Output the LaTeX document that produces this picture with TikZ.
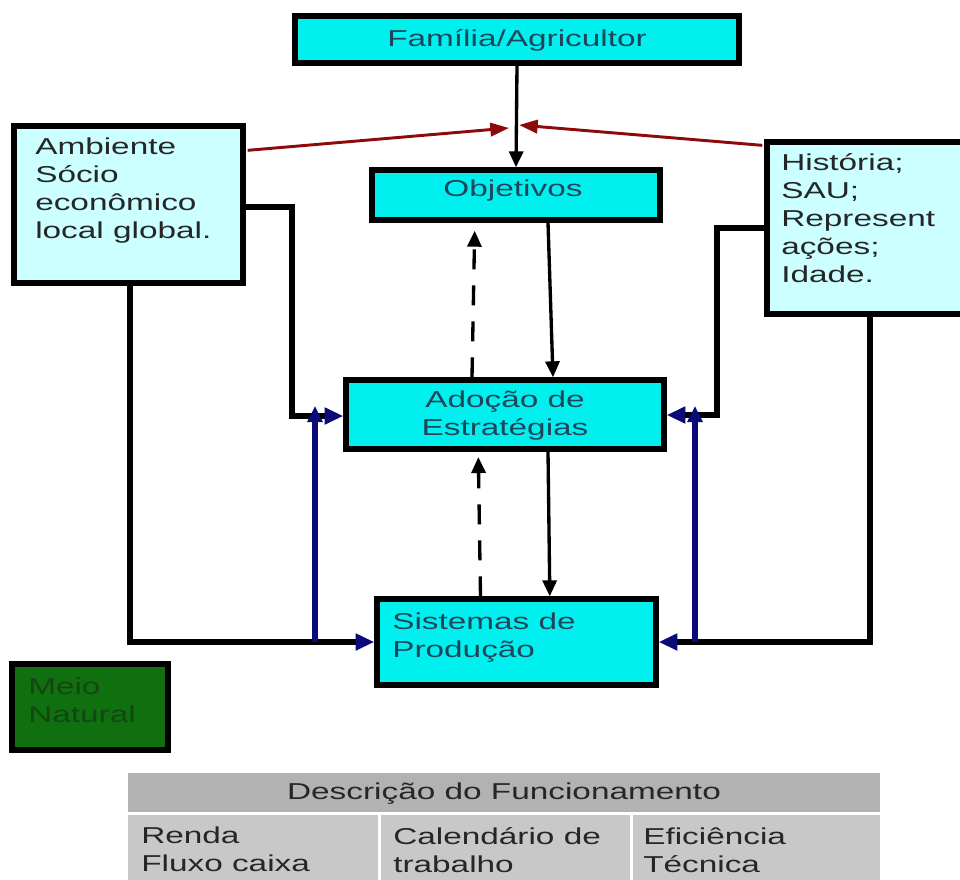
\documentclass[tikz,border=0pt]{standalone}
\usepackage{fontspec}
\setmainfont{Liberation Sans}[FakeStretch=1.45]
\usetikzlibrary{arrows.meta}
\definecolor{cyanbox}{RGB}{0,240,240}
\definecolor{lightcyan}{RGB}{204,255,255}
\definecolor{greenbox}{RGB}{16,112,16}
\definecolor{greentext}{RGB}{20,70,20}
\definecolor{slatetext}{RGB}{30,70,90}
\definecolor{darkred}{RGB}{140,10,10}
\definecolor{navyblue}{RGB}{10,10,120}
\definecolor{hdrgray}{RGB}{178,178,178}
\definecolor{cellgray}{RGB}{200,200,200}
\tikzset{
  box/.style={draw=black, line width=4pt, inner sep=0pt},
  txt/.style={inner sep=0pt, font=\fontsize{17.25}{21}\selectfont},
  ltxt/.style={txt, align=left, anchor=north west},
  thin/.style={line width=2.5pt, -{Triangle[length=12pt,width=10.5pt]}},
  dsh/.style={thin, dash pattern=on 15pt off 12pt},
  redarr/.style={draw=darkred, line width=2.2pt, -{Triangle[length=14pt,width=10pt,color=darkred]}},
  conn/.style={line width=3.8pt, -{Triangle[length=14pt,width=12pt,color=navyblue]}},
  blueln/.style={draw=navyblue, line width=4.5pt, -{Triangle[length=12pt,width=11pt]}},
}
\begin{document}
\begin{tikzpicture}[x=0.75pt,y=-0.75pt]
\clip (0,0) rectangle (960,879);
\fill[white] (0,0) rectangle (960,879);

% boxes
\node[box, fill=cyanbox, minimum width=333pt, minimum height=35.25pt] (fam) at (517,39.5) {};
\node[box, fill=lightcyan, minimum width=171.75pt, minimum height=117.75pt] (amb) at (128.5,204.5) {};
\node[box, fill=cyanbox, minimum width=216pt, minimum height=37.5pt] (obj) at (516,195) {};
\node[box, fill=lightcyan, minimum width=156pt, minimum height=129pt] (hist) at (871,228) {};
\node[box, fill=cyanbox, minimum width=238.5pt, minimum height=51.75pt] (ado) at (505,414.5) {};
\node[box, fill=cyanbox, minimum width=209.25pt, minimum height=64.5pt] (sis) at (516.5,642) {};
\node[box, fill=greenbox, minimum width=117pt, minimum height=64.5pt] (meio) at (90,707) {};

% table
\node[fill=hdrgray, minimum width=564pt, minimum height=29.25pt, inner sep=0pt] (hdr) at (504,792.5) {};
\node[fill=cellgray, minimum width=187.5pt, minimum height=60pt, inner sep=0pt, anchor=north west] (c1) at (128,815) {};
\node[fill=cellgray, minimum width=186.75pt, minimum height=60pt, inner sep=0pt, anchor=north west] (c2) at (381,815) {};
\node[fill=cellgray, minimum width=185.25pt, minimum height=60pt, inner sep=0pt, anchor=north west] (c3) at (633,815) {};

% texts
\node[txt, text=slatetext] (tfam) at (517,40) {Família/Agricultor};
\node[txt, text=slatetext] (tobj) at (513,191) {Objetivos};
\node[txt, text=slatetext, align=center] (tado) at (505,416) {Adoção de\\Estratégias};
\node[ltxt, text=slatetext] (tsis) at (392,613) {Sistemas de\\Produção};
\node[ltxt, text=black!85] (tamb) at (35,138) {Ambiente\\Sócio\\econômico\\local global.};
\node[ltxt, text=black!85] (thist) at (781,153) {História;\\SAU;\\Represent\\ações;\\Idade.};
\node[ltxt, text=greentext] (tmeio) at (28,678) {Meio\\Natural};
\node[txt, text=black!85] (thdr) at (504,794) {Descrição do Funcionamento};
\node[ltxt, text=black!85] (tc1) at (141,827) {Renda\\Fluxo caixa};
\node[ltxt, text=black!85] (tc2) at (393,827) {Calendário de\\trabalho};
\node[ltxt, text=black!85] (tc3) at (643,827) {Eficiência\\Técnica};

% central connectors
\coordinate (meetL) at (509,128);
\coordinate (meetR) at (519,125);
\draw[thin] (fam.south) -- (obj.north);
\draw[redarr] (amb.north east) ++(2,27) -- (meetL);
\draw[redarr] (hist.north west) ++(-2,6) -- (meetR);
\draw[thin] ([xshift=24pt]obj.south) -- ([xshift=36pt]ado.north);
\draw[dsh] ([xshift=-24.75pt]ado.north) -- ([xshift=-31pt,yshift=-6pt]obj.south);
\draw[thin] ([xshift=32.25pt]ado.south) -- ([xshift=25pt]sis.north);
\draw[dsh] ([xshift=-27pt]sis.north) -- ([xshift=-20pt,yshift=-4pt]ado.south);

% side connectors
\coordinate (lA) at (292,207);
\coordinate (lB) at (292,416);
\coordinate (lC) at (130,642);
\coordinate (bL) at (315,642);
\coordinate (bLt) at (315,406);
\draw[conn] (amb.east |- lA) -- (lA) -- (lB) -- (ado.west |- lB);
\draw[conn] (amb.south -| lC) -- (lC) -- (sis.west |- lC);
\draw[blueln] (bL) -- (bLt);

\coordinate (rA) at (717,228);
\coordinate (rB) at (717,415);
\coordinate (rC) at (870,642);
\coordinate (bR) at (695,642);
\coordinate (bRt) at (695,406);
\draw[conn] (hist.west |- rA) -- (rA) -- (rB) -- (ado.east |- rB);
\draw[conn] (hist.south -| rC) -- (rC) -- (sis.east |- rC);
\draw[blueln] (bR) -- (bRt);
\end{tikzpicture}
\end{document}
